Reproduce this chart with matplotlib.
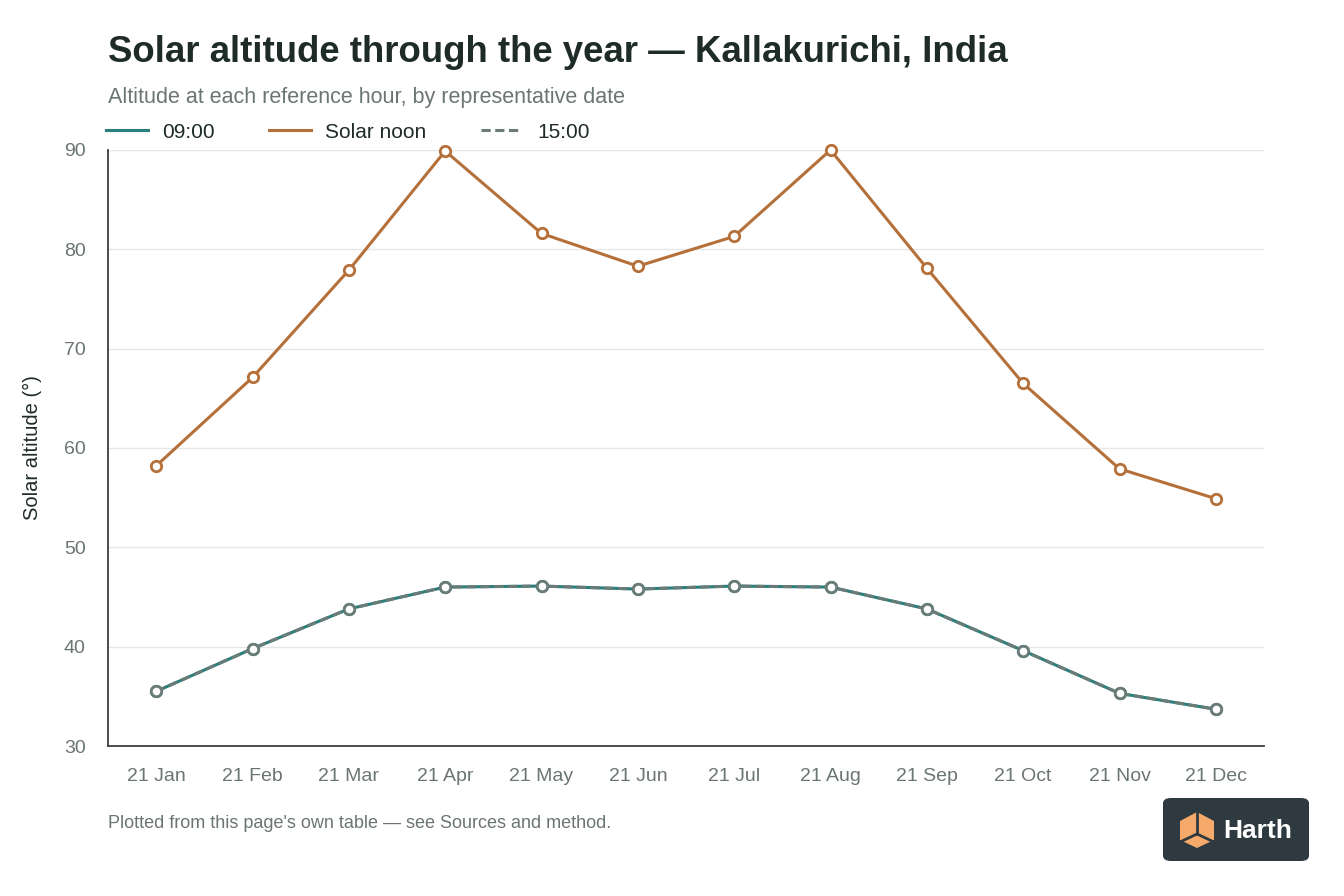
import matplotlib.pyplot as plt
from matplotlib.patches import FancyBboxPatch, Polygon

# data
dates = ["21 Jan", "21 Feb", "21 Mar", "21 Apr", "21 May", "21 Jun",
         "21 Jul", "21 Aug", "21 Sep", "21 Oct", "21 Nov", "21 Dec"]
alt_0900 = [35.5, 39.8, 43.8, 46.0, 46.1, 45.8, 46.1, 46.0, 43.8, 39.6, 35.3, 33.7]
alt_noon = [58.2, 67.1, 77.9, 89.9, 81.6, 78.3, 81.3, 90.0, 78.1, 66.5, 57.9, 54.9]
alt_1500 = [35.5, 39.8, 43.8, 46.0, 46.1, 45.8, 46.1, 46.0, 43.8, 39.6, 35.3, 33.7]
yticks = [30, 40, 50, 60, 70, 80, 90]

plt.rcParams['font.family'] = ['Liberation Sans', 'DejaVu Sans']

fig = plt.figure(figsize=(13.44, 8.96), dpi=100)
ax = fig.add_axes([108/1344, 1 - 746/896, (1264-108)/1344, (746-150)/896])

x = list(range(len(dates)))
teal = "#2a7f7a"
orange = "#b5703a"
grey = "#6b7b78"

ax.plot(x, alt_0900, color=teal, lw=2.2, marker="o", ms=7.5, mfc="white",
        mec=teal, mew=2, label="09:00", zorder=3, clip_on=False)
ax.plot(x, alt_noon, color=orange, lw=2.2, marker="o", ms=7.5, mfc="white",
        mec=orange, mew=2, label="Solar noon", zorder=3, clip_on=False)
ax.plot(x, alt_1500, color=grey, lw=2.2, ls=(0, (3, 1.5)), marker="o", ms=7.5,
        mfc="white", mec=grey, mew=2, label="15:00", zorder=4, clip_on=False)

ax.set_xlim(-0.5, len(dates) - 0.5)
ax.set_ylim(30, 90)
ax.set_xticks(x)
ax.set_xticklabels(dates)
ax.set_yticks(yticks)
ax.grid(axis="y", color="#e6e8e7", lw=1)
ax.set_axisbelow(True)
for s in ["top", "right"]:
    ax.spines[s].set_visible(False)
ax.spines["left"].set_color("#3a3f3e")
ax.spines["bottom"].set_color("#3a3f3e")
ax.spines["left"].set_linewidth(1.3)
ax.spines["bottom"].set_linewidth(1.3)
ax.tick_params(axis="x", length=0, labelsize=14, labelcolor="#6b7572", pad=16)
ax.tick_params(axis="y", length=0, labelsize=14, labelcolor="#6b7572", pad=16)
ax.set_ylabel("Solar altitude (°)", fontsize=14.5, color="#1e2b28", labelpad=16)

fig.text(108/1344, 1 - 52/896, "Solar altitude through the year — Kallakurichi, India",
         fontsize=26.4, fontweight="bold", color="#1e2b28", va="center")
fig.text(108/1344, 1 - 97/896, "Altitude at each reference hour, by representative date",
         fontsize=15.5, color="#6b7572", va="center")
fig.text(108/1344, 1 - 823/896, "Plotted from this page's own table — see Sources and method.",
         fontsize=13, color="#6b7572", va="center")

leg = fig.legend(loc="center left", bbox_to_anchor=(106/1344, 1 - 132/896), ncol=3,
                 frameon=False, fontsize=15, handlelength=2.0, handletextpad=0.7,
                 columnspacing=2.6, borderaxespad=0, borderpad=0)
for h in leg.get_lines():
    h.set_marker("")
for t in leg.get_texts():
    t.set_color("#1e2b28")

# logo badge
W, H = 1344, 896
badge = FancyBboxPatch((1163/W, 1 - 861/H), 146/W, 63/H,
                       boxstyle="round,pad=0,rounding_size=0.006",
                       transform=fig.transFigure, fc="#2e3a40", ec="none")
fig.patches.append(badge)
cx, cy = 1197, 830
cube = [(cx, cy - 18), (cx + 17, cy - 9), (cx + 17, cy + 10), (cx, cy + 18),
        (cx - 17, cy + 10), (cx - 17, cy - 9)]
fig.patches.append(Polygon([(px/W, 1 - py/H) for px, py in cube], closed=True,
                           transform=fig.transFigure, fc="#f5a96b", ec="none"))
for seg in [[(cx, cy - 18), (cx, cy + 4)], [(cx, cy + 4), (cx - 17, cy + 12)],
            [(cx, cy + 4), (cx + 17, cy + 12)]]:
    fig.lines.append(plt.Line2D([p[0]/W for p in seg], [1 - p[1]/H for p in seg],
                                transform=fig.transFigure, color="#2e3a40", lw=2))
fig.text(1258/W, 1 - 831/H, "Harth", fontsize=19, fontweight="bold", color="white",
         ha="center", va="center")

fig.savefig("out.png", dpi=100, facecolor="white")
